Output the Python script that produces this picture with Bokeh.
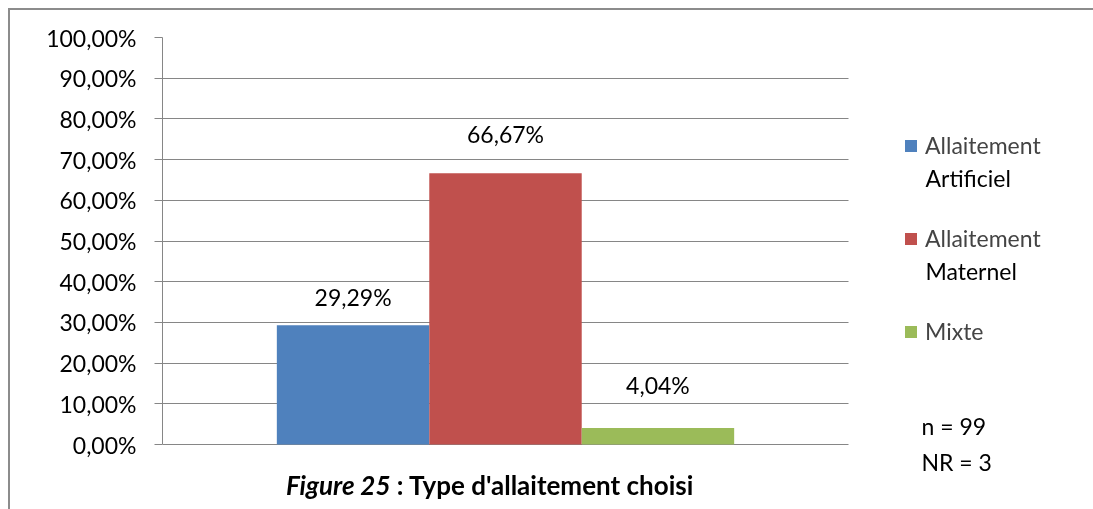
from bokeh.plotting import figure
from bokeh.models import (Range1d, FixedTicker, Legend, LegendItem, Label, ColumnDataSource)
from bokeh.embed import file_html
from bokeh.resources import INLINE
from bokeh.core.properties import value

# ---- data ----
categories = ["Allaitement Artificiel", "Allaitement Maternel", "Mixte"]
legend_first_lines = ["Allaitement", "Allaitement", "Mixte"]
legend_second_lines = ["Artificiel", "Maternel", ""]
percentages = [29.29, 66.67, 4.04]
value_labels = ["29,29%", "66,67%", "4,04%"]
y_ticks = [0, 10, 20, 30, 40, 50, 60, 70, 80, 90, 100]
y_tick_labels = ["0,00%", "10,00%", "20,00%", "30,00%", "40,00%", "50,00%",
                 "60,00%", "70,00%", "80,00%", "90,00%", "100,00%"]
note_lines = ["n = 99", "NR = 3"]
caption_italic = "Figure 25"
caption_rest = "\u00a0: Type d'allaitement choisi"

# ---- styles / layout ----
colors = ["#4F81BD", "#C0504D", "#9BBB59"]
label_offsets = [-28, -39, -43]   # px, manual label placement as in the original
FONT = "Lato"
GRAY = "#868686"

# the original chart is cropped at the right and bottom: let the canvas run past the window
W, H = 1090, 503
FRAME_LEFT, FRAME_TOP, FRAME_RIGHT_PAD = 152, 27, 16
PLOT_W, PLOT_H = 686, 407          # visible plot area (bars + gridlines)
frame_w = W - FRAME_LEFT - FRAME_RIGHT_PAD
frame_h = H - FRAME_TOP
gap = 1.5                          # Excel gap width 150 %
n = len(categories)
unit = PLOT_W / (n + gap)
x_start = -0.5 - gap / 2
cat_end = x_start + n + gap
x_end = x_start + frame_w / unit
y_start = -100 * (frame_h - PLOT_H) / PLOT_H

TXT_SHIFT = 9   # empirical correction for label baseline placement


def sy(canvas_y):
    """canvas y (from top) -> frame-relative screen y (from bottom)"""
    return H - canvas_y + TXT_SHIFT


def sx(canvas_x):
    return canvas_x - FRAME_LEFT


xpos = list(range(n))
src = ColumnDataSource(dict(x=xpos, pct=percentages, lab=value_labels,
                            color=colors, yoff=label_offsets))

p = figure(width=W, height=H,
           x_range=Range1d(x_start, x_end), y_range=Range1d(y_start, 100),
           output_backend="svg", toolbar_location=None,
           min_border_left=FRAME_LEFT, min_border_right=FRAME_RIGHT_PAD,
           min_border_top=FRAME_TOP, min_border_bottom=0)
p.outline_line_color = None
p.border_fill_color = "white"
p.background_fill_color = "white"
# outer chart border: only its left and top edges are visible
p.styles = {"position": "fixed", "left": "0px", "top": "0px",
            "margin-left": "10px", "margin-top": "10px",
            "box-shadow": "-2px -2px 0px 0px #8c8c8c"}

bars = p.vbar(x="x", top="pct", width=1.0, color="color", line_color=None, source=src)
p.text(x="x", y="pct", text="lab", y_offset="yoff", source=src,
       text_align="center", text_baseline="middle",
       text_font=value(FONT), text_font_size="23px", text_color="black")

# y axis
p.yaxis.ticker = FixedTicker(ticks=y_ticks)
p.yaxis.bounds = (0, 100)
p.yaxis.major_label_overrides = {t: l for t, l in zip(y_ticks, y_tick_labels)}
p.yaxis.major_label_text_font = FONT
p.yaxis.major_label_text_font_size = "23px"
p.yaxis.major_label_text_color = "black"
p.yaxis.axis_line_color = GRAY
p.yaxis.major_tick_line_color = GRAY
p.yaxis.major_tick_out = 8
p.yaxis.major_tick_in = 0
p.yaxis.minor_tick_line_color = None
p.yaxis.major_label_standoff = 18

p.xaxis.visible = False
p.xgrid.grid_line_color = None
p.ygrid.ticker = FixedTicker(ticks=y_ticks)
p.ygrid.bounds = (0, 100)
try:
    p.ygrid.cross_bounds = (x_start, cat_end)
    p.ygrid.grid_line_color = GRAY
except AttributeError:
    p.ygrid.grid_line_color = None
    p.segment(x0=x_start, x1=cat_end, y0=y_ticks, y1=y_ticks,
              line_color=GRAY, line_width=1, level="underlay")

# legend (first lines; glyph aligned with first line as in the original)
items = [LegendItem(label=legend_first_lines[i], renderers=[bars], index=i) for i in range(n)]
legend = Legend(items=items, location=(sx(893), H - 335),
                glyph_width=15, glyph_height=15, label_standoff=7,
                label_text_font=FONT, label_text_font_size="23px",
                spacing=65, padding=0, margin=0, border_line_color=None,
                background_fill_alpha=0)
p.add_layout(legend)

# legend second lines
for i, t in enumerate(legend_second_lines):
    if t:
        p.add_layout(Label(x=sx(915), y=sy(176 + 93 * i), x_units="screen", y_units="screen",
                           text=t, text_font=FONT, text_font_size="23px",
                           text_baseline="alphabetic", text_color="black"))

# notes
for i, t in enumerate(note_lines):
    p.add_layout(Label(x=sx(911), y=sy(424 + 36 * i), x_units="screen", y_units="screen",
                       text=t, text_font=FONT, text_font_size="23px",
                       text_baseline="alphabetic", text_color="black"))

# caption
p.add_layout(Label(x=sx(380), y=sy(483), x_units="screen", y_units="screen",
                   text=caption_italic, text_font=FONT, text_font_size="26px",
                   text_font_style="bold italic", text_align="right",
                   text_baseline="alphabetic", text_color="black"))
p.add_layout(Label(x=sx(380), y=sy(483), x_units="screen", y_units="screen",
                   text=caption_rest, text_font=FONT, text_font_size="26px",
                   text_font_style="bold", text_align="left",
                   text_baseline="alphabetic", text_color="black"))

open("out.html", "w").write(file_html(p, INLINE))
